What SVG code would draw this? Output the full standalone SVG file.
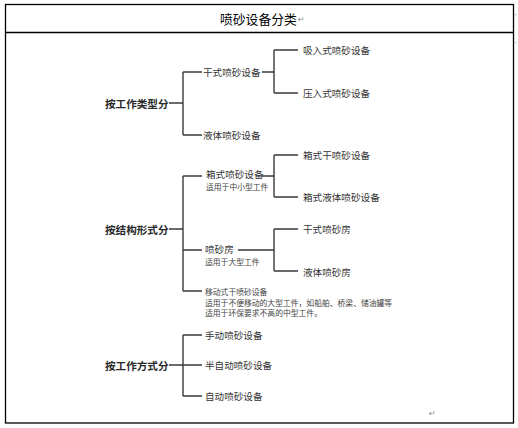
<svg xmlns="http://www.w3.org/2000/svg" width="518" height="428" viewBox="0 0 518 428">
<style>
.frame{fill:none;stroke:#000;stroke-width:1.3}
.c{fill:none;stroke:#3a3a3a;stroke-width:1.4}
.t1{font-family:"Noto Sans CJK SC",sans-serif;font-size:10.6px;fill:#2a2a2a;font-weight:bold;dominant-baseline:central}
.t2{font-family:"Noto Sans CJK SC",sans-serif;font-size:9.6px;fill:#333;dominant-baseline:central}
.t3{font-family:"Noto Sans CJK SC",sans-serif;font-size:7.8px;fill:#444;dominant-baseline:central}
.title{font-family:"Noto Sans CJK SC",sans-serif;font-size:12.8px;fill:#000;dominant-baseline:central}
.mark{font-family:"DejaVu Sans",sans-serif;font-size:8px;fill:#888;dominant-baseline:central}
</style>
<rect class="frame" x="5.5" y="4.5" width="508" height="418.5"/>
<line class="frame" x1="5.5" y1="32.5" x2="513.5" y2="32.5"/>
<g id="title"><text class="title" x="220" y="18">喷砂设备分类</text><text class="mark" x="298" y="19">↵</text></g>
<text class="mark" x="514" y="15" font-size="5">·</text>
<text class="mark" x="514" y="43" font-size="5">·</text>
<text class="mark" x="429" y="413">↵</text>
<g id="connectors">
<path class="c" d="M169,103H183M183,72V135M183,72H202M183,135H202M262,72H274M274,50V93M274,50H298M274,93H298"/>
<path class="c" d="M169,229H183M183,176V291M183,176H202M183,250H202M183,291H202M262,176H274M274,155V197M274,155H298M274,197H298M238,250H274M274,229V271M274,229H298M274,271H298"/>
<path class="c" d="M169,365H202M183,335V396M183,335H202M183,396H202"/>
</g>
<g id="n-type"><text class="t1" x="105" y="103">按工作类型分</text></g>
<g id="n-dry"><text class="t2" x="203" y="72">干式喷砂设备</text></g>
<g id="n-suction"><text class="t2" x="303" y="50">吸入式喷砂设备</text></g>
<g id="n-pressure"><text class="t2" x="303" y="93">压入式喷砂设备</text></g>
<g id="n-liquid"><text class="t2" x="203" y="135">液体喷砂设备</text></g>
<g id="n-struct"><text class="t1" x="105" y="229">按结构形式分</text></g>
<g id="n-box"><text class="t2" x="206" y="174">箱式喷砂设备</text><text class="t3" x="206" y="186.5">适用于中小型工件</text></g>
<g id="n-boxdry"><text class="t2" x="303" y="155">箱式干喷砂设备</text></g>
<g id="n-boxliq"><text class="t2" x="303" y="197">箱式液体喷砂设备</text></g>
<g id="n-room"><text class="t2" x="205" y="248.5">喷砂房</text><text class="t3" x="205" y="261">适用于大型工件</text></g>
<g id="n-roomdry"><text class="t2" x="303" y="229">干式喷砂房</text></g>
<g id="n-roomliq"><text class="t2" x="303" y="271.5">液体喷砂房</text></g>
<g id="n-mobile"><text class="t3" x="205" y="291.5">移动式干喷砂设备</text><text class="t3" x="205" y="302">适用于不便移动的大型工件，如船舶、桥梁、储油罐等</text><text class="t3" x="205" y="312">适用于环保要求不高的中型工件。</text></g>
<g id="n-mode"><text class="t1" x="105" y="365">按工作方式分</text></g>
<g id="n-manual"><text class="t2" x="205" y="335">手动喷砂设备</text></g>
<g id="n-semi"><text class="t2" x="205" y="365">半自动喷砂设备</text></g>
<g id="n-auto"><text class="t2" x="205" y="396">自动喷砂设备</text></g>
</svg>
